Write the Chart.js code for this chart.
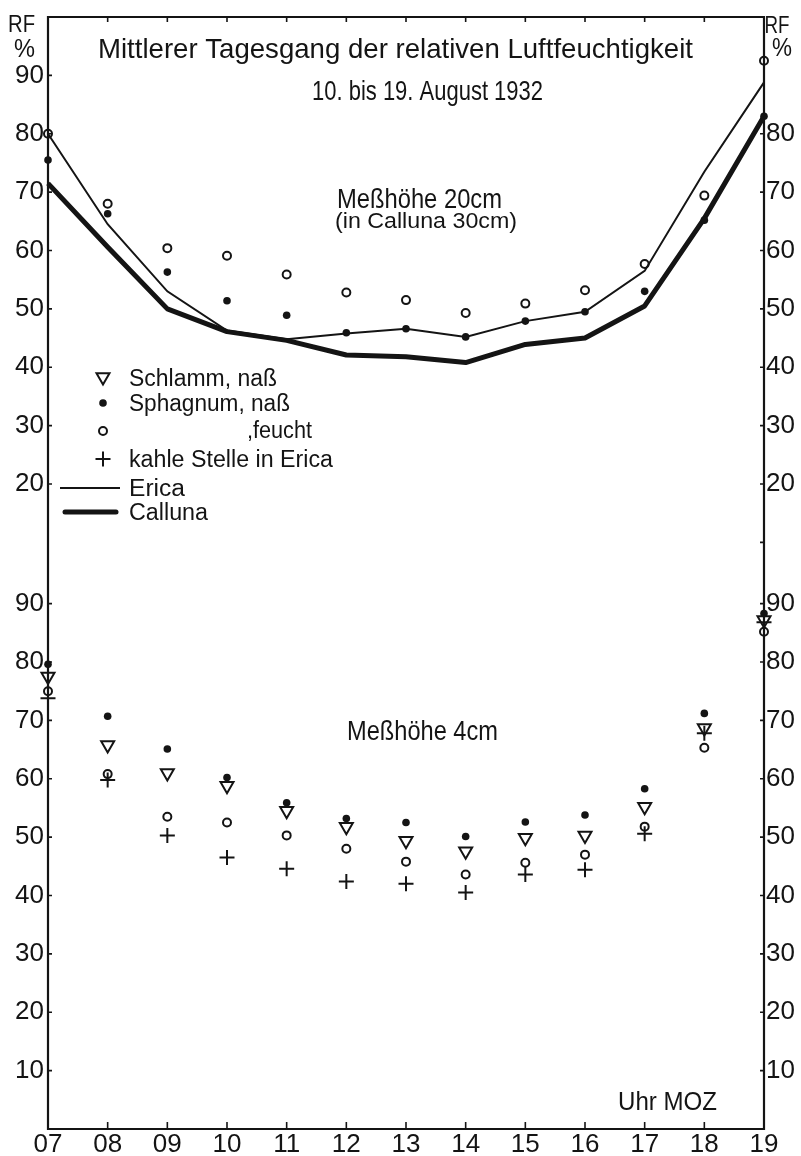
<!DOCTYPE html>
<html><head><meta charset="utf-8">
<script src="https://cdn.jsdelivr.net/npm/chart.js@4.4.1/dist/chart.umd.min.js"></script>
<style>html,body{margin:0;padding:0;background:#fff;}#wrap{width:801px;height:1156px;}</style>
</head><body><div id="wrap"><canvas id="c" width="801" height="1156"></canvas></div>
<script>
// x categories (hours, MOZ)
const hours = ['07','08','09','10','11','12','13','14','15','16','17','18','19'];
// upper panel: Meßhöhe 20cm (in Calluna 30cm)
const ericaTop          = [80, 64.5, 53.0, 46.3, 44.8, 45.8, 46.6, 45.2, 47.9, 49.5, 56.5, 73.5, 88.8];
const callunaTop        = [71.5, 60.6, 50.0, 46.1, 44.6, 42.1, 41.8, 40.8, 43.9, 45.0, 50.5, 65.5, 83.0];
const sphagnumNassTop   = [75.5, 66.3, 56.3, 51.4, 48.9, 45.9, 46.6, 45.2, 47.9, 49.5, 53.0, 65.2, 83.0];
const sphagnumFeuchtTop = [80.0, 68.0, 60.4, 59.1, 55.9, 52.8, 51.5, 49.3, 50.9, 53.2, 57.7, 69.4, 92.5];
// lower panel: Meßhöhe 4cm
const schlammBot        = [77.5, 65.8, 61.0, 58.8, 54.5, 51.8, 49.4, 47.6, 49.9, 50.3, 55.2, 68.7, 87.2];
const sphagnumNassBot   = [79.6, 70.7, 65.1, 60.2, 55.9, 53.2, 52.5, 50.1, 52.6, 53.8, 58.3, 71.2, 88.3];
const sphagnumFeuchtBot = [75.0, 60.8, 53.5, 52.5, 50.3, 48.0, 45.8, 43.6, 45.6, 47.0, 51.8, 65.3, 85.2];
const kahleBot          = [73.8, 59.8, 50.3, 46.5, 44.6, 42.4, 42.0, 40.5, 43.6, 44.4, 50.6, 67.8, 86.8];
// tick labels
const topLeftTicks  = [20, 30, 40, 50, 60, 70, 80, 90];
const topRightTicks = [20, 30, 40, 50, 60, 70, 80];
const topRightMarks = [10, 20, 30, 40, 50, 60, 70, 80];
const bottomTicks   = [10, 20, 30, 40, 50, 60, 70, 80, 90];

const INK = '#141414';
const FONT = '"Liberation Sans", Arial, sans-serif';
const tickFont = {family: FONT, size: 26, lineHeight: 1};

function fitText(ctx, text, x, baseline, size, width, align) {
  ctx.save();
  ctx.font = size + 'px ' + FONT;
  const w = ctx.measureText(text).width;
  const sx = width ? width / w : 1;
  ctx.translate(x, baseline);
  ctx.scale(sx, 1);
  ctx.textAlign = align || 'center';
  ctx.textBaseline = 'alphabetic';
  ctx.fillStyle = INK;
  ctx.fillText(text, 0, 0);
  ctx.restore();
}

const framePlugin = {
  id: 'frame',
  beforeDatasetsDraw(chart) {
    const {ctx, chartArea: ca, scales} = chart;
    ctx.save();
    ctx.strokeStyle = INK;
    ctx.lineWidth = 2.2;
    ctx.lineJoin = 'miter';
    ctx.beginPath();
    ctx.moveTo(ca.left, ca.bottom);
    ctx.lineTo(ca.left, ca.top);
    ctx.lineTo(ca.right, ca.top);
    ctx.lineTo(ca.right, ca.bottom);
    ctx.closePath();
    ctx.stroke();
    ctx.lineWidth = 1.6;
    ctx.beginPath();
    hours.forEach((h, i) => {
      if (i === 0 || i === hours.length - 1) return;
      const px = scales.x.getPixelForValue(i);
      ctx.moveTo(px, ca.bottom); ctx.lineTo(px, ca.bottom - 7);
      ctx.moveTo(px, ca.top); ctx.lineTo(px, ca.top + 5);
    });
    topLeftTicks.forEach(v => { const py = scales.yTop.getPixelForValue(v); ctx.moveTo(ca.left, py); ctx.lineTo(ca.left + 4, py); });
    bottomTicks.forEach(v => { const py = scales.yBot.getPixelForValue(v); ctx.moveTo(ca.left, py); ctx.lineTo(ca.left + 4, py); });
    topRightMarks.forEach(v => { const py = scales.yTopR.getPixelForValue(v); ctx.moveTo(ca.right, py); ctx.lineTo(ca.right - 4, py); });
    bottomTicks.forEach(v => { const py = scales.yBotR.getPixelForValue(v); ctx.moveTo(ca.right, py); ctx.lineTo(ca.right - 4, py); });
    ctx.stroke();
    ctx.restore();
  },
  afterDatasetsDraw(chart) {
    const ctx = chart.ctx;
    // headings
    fitText(ctx, 'Mittlerer Tagesgang der relativen Luftfeuchtigkeit', 395.5, 58, 28, 595);
    fitText(ctx, '10. bis 19. August 1932', 427.5, 100, 28, 231);
    fitText(ctx, 'Meßhöhe 20cm', 419.5, 208, 27, 165);
    fitText(ctx, '(in Calluna 30cm)', 426, 228, 22, 182);
    fitText(ctx, 'Meßhöhe 4cm', 422.5, 740, 27, 151);
    fitText(ctx, 'Uhr MOZ', 667.5, 1110, 25, 99);
    fitText(ctx, 'RF', 21.5, 32, 23, 27);
    fitText(ctx, '%', 24.5, 57, 25, 21);
    fitText(ctx, 'RF', 777, 33, 23, 25);
    fitText(ctx, '%', 782, 56, 25, 20);
    // legend
    const H = Chart.helpers;
    ctx.save();
    ctx.strokeStyle = INK; ctx.fillStyle = 'rgba(0,0,0,0)'; ctx.lineWidth = 2;
    H.drawPoint(ctx, {pointStyle: 'triangle', radius: 7.5, rotation: 180, borderWidth: 2}, 103, 377);
    ctx.fillStyle = INK;
    H.drawPoint(ctx, {pointStyle: 'circle', radius: 3.8, rotation: 0, borderWidth: 0}, 103, 403);
    ctx.fillStyle = 'rgba(0,0,0,0)'; ctx.lineWidth = 2;
    H.drawPoint(ctx, {pointStyle: 'circle', radius: 4, rotation: 0, borderWidth: 2}, 103, 431);
    ctx.lineWidth = 2;
    H.drawPoint(ctx, {pointStyle: 'cross', radius: 7.5, rotation: 0, borderWidth: 2}, 103, 459);
    ctx.lineWidth = 2; ctx.beginPath(); ctx.moveTo(60, 488); ctx.lineTo(120, 488); ctx.stroke();
    ctx.lineWidth = 5; ctx.lineCap = 'round'; ctx.beginPath(); ctx.moveTo(65, 512); ctx.lineTo(116, 512); ctx.stroke();
    ctx.restore();
    fitText(ctx, 'Schlamm, naß', 129, 386, 23, 148, 'left');
    fitText(ctx, 'Sphagnum, naß', 129, 411, 23, 161, 'left');
    fitText(ctx, ',feucht', 247, 438, 23, 65, 'left');
    fitText(ctx, 'kahle Stelle in Erica', 129, 467, 23, 204, 'left');
    fitText(ctx, 'Erica', 129, 496, 23, 56, 'left');
    fitText(ctx, 'Calluna', 129, 520, 23, 79, 'left');
  }
};

function yScale(pos, stack, weight, stackWeight, max, tickList, width) {
  return {
    type: 'linear', position: pos, stack: stack, stackWeight: stackWeight, weight: weight,
    min: 0, max: max,
    afterBuildTicks: s => { s.ticks = tickList.map(v => ({value: v})); },
    afterFit: s => { s.width = width; },
    grid: {display: false, drawTicks: false},
    border: {display: false},
    ticks: {font: tickFont, color: INK, padding: pos === 'left' ? 4 : 2, autoSkip: false}
  };
}

const ptTri = {showLine: false, pointStyle: 'triangle', rotation: 180, pointRadius: 7.5, pointBorderWidth: 2, pointBackgroundColor: 'rgba(0,0,0,0)', pointBorderColor: INK, clip: false};
const ptDot = {showLine: false, pointStyle: 'circle', pointRadius: 3.8, pointBorderWidth: 0, pointBackgroundColor: INK, pointBorderColor: INK, clip: false};
const ptRing = {showLine: false, pointStyle: 'circle', pointRadius: 4, pointBorderWidth: 2, pointBackgroundColor: 'rgba(0,0,0,0)', pointBorderColor: INK, clip: false};
const ptCross = {showLine: false, pointStyle: 'cross', pointRadius: 7.5, pointBorderWidth: 2, pointBorderColor: INK, clip: false};

new Chart(document.getElementById('c').getContext('2d'), {
  type: 'line',
  data: {
    labels: hours,
    datasets: [
      Object.assign({label: 'Sphagnum, feucht (20cm)', data: sphagnumFeuchtTop, yAxisID: 'yTop'}, ptRing),
      Object.assign({label: 'Sphagnum, naß (20cm)', data: sphagnumNassTop, yAxisID: 'yTop'}, ptDot),
      {label: 'Erica', data: ericaTop, yAxisID: 'yTop', borderColor: INK, borderWidth: 2, pointRadius: 0, tension: 0, fill: false, clip: false},
      {label: 'Calluna', data: callunaTop, yAxisID: 'yTop', borderColor: INK, borderWidth: 5, pointRadius: 0, tension: 0, fill: false, clip: false, borderJoinStyle: 'round'},
      Object.assign({label: 'Schlamm, naß', data: schlammBot, yAxisID: 'yBot'}, ptTri),
      Object.assign({label: 'Sphagnum, naß', data: sphagnumNassBot, yAxisID: 'yBot'}, ptDot),
      Object.assign({label: 'Sphagnum, feucht', data: sphagnumFeuchtBot, yAxisID: 'yBot'}, ptRing),
      Object.assign({label: 'kahle Stelle in Erica', data: kahleBot, yAxisID: 'yBot'}, ptCross)
    ]
  },
  options: {
    responsive: false, animation: false, devicePixelRatio: 1, events: [],
    layout: {padding: {top: 14, left: 0, right: 0, bottom: 0}},
    plugins: {legend: {display: false}, title: {display: false}, tooltip: {enabled: false}},
    scales: {
      x: {
        type: 'category', offset: false,
        grid: {display: false, drawTicks: false}, border: {display: false},
        ticks: {font: tickFont, color: INK, padding: 3, maxRotation: 0, autoSkip: false},
        afterFit: s => { s.height = 27; }
      },
      yTop: yScale('left', 'L', 1, 100, 100, topLeftTicks, 48),
      yBot: yScale('left', 'L', 0, 90.5, 90.5, bottomTicks, 48),
      yTopR: yScale('right', 'R', 0, 100, 100, topRightTicks, 37),
      yBotR: yScale('right', 'R', 1, 90.5, 90.5, bottomTicks, 37)
    }
  },
  plugins: [framePlugin]
});
</script>
</body></html>
